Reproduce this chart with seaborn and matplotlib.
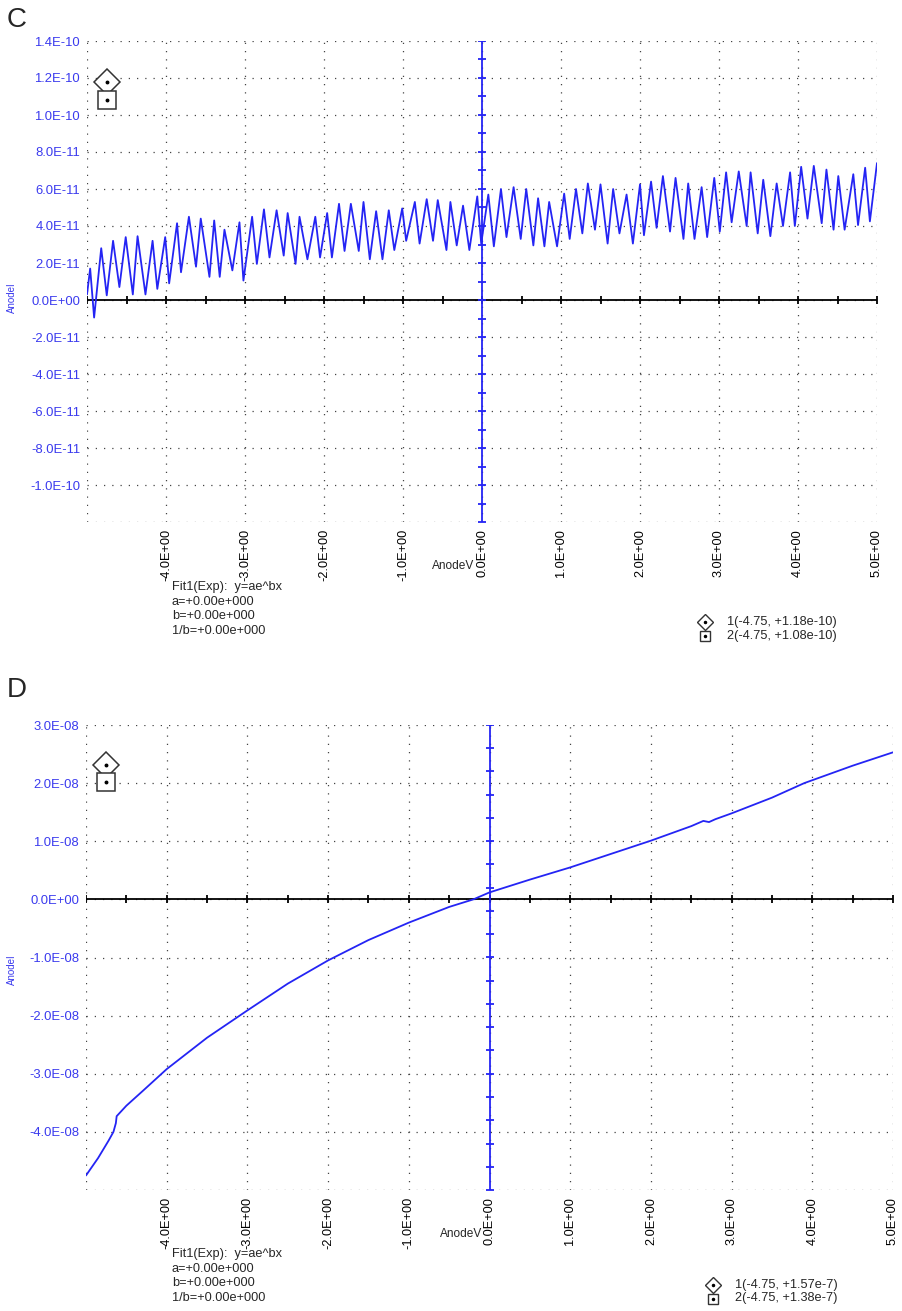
import numpy as np
import pandas as pd
import matplotlib
matplotlib.use("Agg")
import matplotlib.pyplot as plt
from matplotlib.lines import Line2D
import seaborn as sns

# ---------------- data ----------------
# Panel C : AnodeI (x 1e-11 A) vs AnodeV (V)  -- peaks / troughs of the oscillation
C_V = [-5.00, -4.96, -4.91, -4.82, -4.75, -4.67, -4.59, -4.51, -4.42, -4.36, -4.26,
       -4.17, -4.11, -4.01, -3.96, -3.86, -3.81, -3.71, -3.62, -3.56, -3.45, -3.39,
       -3.32, -3.26, -3.16, -3.07, -3.02, -2.91, -2.85, -2.76, -2.69, -2.60, -2.51,
       -2.46, -2.36, -2.31, -2.21, -2.11, -2.05, -1.96, -1.90, -1.81, -1.74, -1.66,
       -1.56, -1.50, -1.42, -1.34, -1.26, -1.18, -1.11, -1.01, -0.96, -0.85, -0.79,
       -0.70, -0.62, -0.56, -0.45, -0.40, -0.32, -0.24, -0.16, -0.06, -0.01,
       0.08, 0.15, 0.24, 0.31, 0.40, 0.49, 0.56, 0.65, 0.71, 0.79, 0.85, 0.95,
       1.04, 1.11, 1.19, 1.27, 1.34, 1.43, 1.50, 1.59, 1.66, 1.74, 1.83, 1.91,
       2.00, 2.05, 2.14, 2.21, 2.29, 2.38, 2.45, 2.55, 2.61, 2.69, 2.78, 2.85,
       2.94, 3.01, 3.09, 3.16, 3.25, 3.35, 3.40, 3.49, 3.56, 3.65, 3.73, 3.81,
       3.90, 3.96, 4.04, 4.12, 4.20, 4.30, 4.36, 4.45, 4.51, 4.59, 4.70, 4.76,
       4.85, 4.91, 5.00]
C_I = [0.3, 1.7, -0.95, 2.8, 0.25, 3.2, 0.7, 3.4, 0.3, 3.45, 0.3,
       3.2, 0.6, 3.4, 0.9, 4.15, 1.5, 4.5, 1.8, 4.4, 1.25, 4.3,
       1.25, 3.8, 1.6, 4.2, 1.05, 4.5, 1.95, 4.9, 2.3, 4.85, 2.4,
       4.7, 1.95, 4.5, 2.2, 4.5, 2.3, 4.7, 2.3, 5.2, 2.65, 5.2,
       2.65, 5.3, 2.2, 4.8, 2.2, 4.85, 2.7, 4.95, 3.2, 5.3, 3.05,
       5.45, 3.2, 5.4, 2.7, 5.3, 2.95, 5.1, 2.7, 5.6, 3.05,
       5.7, 2.9, 6.0, 3.4, 6.1, 3.3, 6.0, 2.95, 5.5, 2.9, 5.3, 2.9,
       5.75, 3.3, 6.0, 3.6, 6.3, 3.8, 6.25, 3.05, 6.0, 3.6, 5.7, 3.05,
       6.25, 3.5, 6.4, 3.9, 6.7, 3.7, 6.6, 3.3, 6.3, 3.3, 6.1, 3.4,
       6.6, 3.7, 6.9, 4.2, 6.95, 4.0, 6.9, 3.6, 6.5, 3.45, 6.3, 4.0,
       6.9, 4.0, 7.2, 4.4, 7.25, 4.15, 7.05, 3.8, 6.7, 3.8, 6.8, 4.05,
       7.15, 4.25, 7.4]
C_SCALE = 1e-11

# Panel D : AnodeI (x 1e-8 A) vs AnodeV (V)
D_V = [-5.00, -4.85, -4.72, -4.66, -4.63, -4.62, -4.50, -4.30, -4.00, -3.50, -3.00,
       -2.50, -2.00, -1.50, -1.00, -0.50, -0.20, 0.00, 0.50, 1.00, 1.50, 2.00,
       2.50, 2.65, 2.72, 2.80, 3.00, 3.50, 3.90, 4.00, 4.50, 5.00]
D_I = [-4.75, -4.45, -4.15, -4.00, -3.85, -3.73, -3.55, -3.30, -2.92, -2.38, -1.91,
       -1.45, -1.05, -0.70, -0.40, -0.13, 0.00, 0.12, 0.34, 0.55, 0.78, 1.01,
       1.26, 1.35, 1.33, 1.38, 1.48, 1.75, 2.00, 2.05, 2.30, 2.53]
D_SCALE = 1e-8

# ticks and labels
X_TICKS = [-5, -4, -3, -2, -1, 0, 1, 2, 3, 4, 5]
X_LABELS = ["", "-4.0E+00", "-3.0E+00", "-2.0E+00", "-1.0E+00", "0.0E+00",
            "1.0E+00", "2.0E+00", "3.0E+00", "4.0E+00", "5.0E+00"]
C_YTICKS = [-1.2e-10, -1.0e-10, -8e-11, -6e-11, -4e-11, -2e-11, 0.0,
            2e-11, 4e-11, 6e-11, 8e-11, 1.0e-10, 1.2e-10, 1.4e-10]
C_YLABELS = ["", "-1.0E-10", "-8.0E-11", "-6.0E-11", "-4.0E-11", "-2.0E-11", "0.0E+00",
             "2.0E-11", "4.0E-11", "6.0E-11", "8.0E-11", "1.0E-10", "1.2E-10", "1.4E-10"]
D_YTICKS = [-5e-8, -4e-8, -3e-8, -2e-8, -1e-8, 0.0, 1e-8, 2e-8, 3e-8]
D_YLABELS = ["", "-4.0E-08", "-3.0E-08", "-2.0E-08", "-1.0E-08", "0.0E+00",
             "1.0E-08", "2.0E-08", "3.0E-08"]

# cursor markers (data positions) and legend texts
C_CURSORS = [(-4.75, 1.18e-10), (-4.75, 1.08e-10)]
D_CURSORS = [(-4.75, 2.32e-8), (-4.75, 2.02e-8)]
C_LEGEND = ["1(-4.75, +1.18e-10)", "2(-4.75, +1.08e-10)"]
D_LEGEND = ["1(-4.75, +1.57e-7)", "2(-4.75, +1.38e-7)"]
FIT_LINES = ["Fit1(Exp):  y=ae^bx", "a=+0.00e+000", "b=+0.00e+000", "1/b=+0.00e+000"]

# ---------------- style ----------------
sns.set_style("white")
plt.rcParams["font.family"] = ["Liberation Sans", "DejaVu Sans"]

BLUE = "#2424f4"
LBLUE = "#3a3aee"
W, H = 902, 1311

fig = plt.figure(figsize=(W / 100, H / 100), dpi=100)


def fx(px):
    return px / W


def fy(py):
    return 1 - py / H


axC = fig.add_axes([fx(87), fy(522), fx(877) - fx(87), fy(41) - fy(522)])
axD = fig.add_axes([fx(86), fy(1190), fx(893) - fx(86), fy(725) - fy(1190)])


def style(ax, yticks, ylabels, ylim, vstep):
    ax.set_xlim(-5, 5)
    ax.set_ylim(*ylim)
    ax.set_xticks(X_TICKS)
    ax.set_xticklabels(X_LABELS)
    ax.set_yticks(yticks)
    ax.set_yticklabels(ylabels)
    ax.tick_params(axis="x", length=0, pad=5, labelsize=9.2, labelcolor="black",
                   labelrotation=90)
    ax.tick_params(axis="y", length=0, pad=5, labelsize=9.4, labelcolor=LBLUE)
    for s in ax.spines.values():
        s.set_visible(False)
    ax.grid(True, color="#444444", linestyle=(0, (1.0, 5.6)), linewidth=0.9)
    ax.set_axisbelow(True)
    # zero line with small ticks
    ax.axhline(0, color="black", lw=1.3, zorder=2)
    hx = np.arange(-5, 5.01, 0.5)
    ax.plot(hx, np.zeros_like(hx), ls="none", marker="|", ms=6, mew=1.3,
            color="black", zorder=2)
    # blue vertical line through x = 0 with ticks
    ax.axvline(0, color=BLUE, lw=1.3, zorder=3)
    vy = np.arange(ylim[0], ylim[1] + vstep * 0.01, vstep)
    ax.plot(np.zeros_like(vy), vy, ls="none", marker="_", ms=6, mew=1.3,
            color=BLUE, zorder=3)


def cursors(ax, pts):
    (x1, y1), (x2, y2) = pts
    ax.plot([x1], [y1], marker="D", ms=13.5, mfc="white", mec="#333333", mew=1.1,
            ls="none", zorder=5)
    ax.plot([x2], [y2], marker="s", ms=13, mfc="white", mec="#333333", mew=1.1,
            ls="none", zorder=5)
    ax.plot([x1, x2], [y1, y2], marker="o", ms=1.8, color="black", ls="none", zorder=6)


# ---------------- panel C ----------------
dfC = pd.DataFrame({"AnodeV": C_V, "AnodeI": np.array(C_I) * C_SCALE})
style(axC, C_YTICKS, C_YLABELS, (-1.2e-10, 1.4e-10), 1e-11)
sns.lineplot(data=dfC, x="AnodeV", y="AnodeI", ax=axC, color=BLUE, lw=1.3,
             estimator=None, sort=False, zorder=4)
axC.set_xlabel("")
axC.set_ylabel("")
cursors(axC, C_CURSORS)

# ---------------- panel D ----------------
dfD = pd.DataFrame({"AnodeV": D_V, "AnodeI": np.array(D_I) * D_SCALE})
style(axD, D_YTICKS, D_YLABELS, (-5e-8, 3e-8), 0.4e-8)
sns.lineplot(data=dfD, x="AnodeV", y="AnodeI", ax=axD, color=BLUE, lw=1.3,
             estimator=None, sort=False, zorder=4)
axD.set_xlabel("")
axD.set_ylabel("")
cursors(axD, D_CURSORS)


# ---------------- texts ----------------
def panel_texts(letter, letter_y, ylab_y, xlab_x, xlab_y, fit_x, fit_y0, leg_x, leg_y0,
                legend):
    fig.text(fx(7), fy(letter_y), letter, fontsize=20, va="center", ha="left")
    fig.text(fx(12), fy(ylab_y), "AnodeI", rotation=90, fontsize=7, color=LBLUE,
             ha="center", va="center")
    fig.text(fx(xlab_x), fy(xlab_y), "AnodeV", fontsize=8.6, ha="right", va="center")
    for i, line in enumerate(FIT_LINES):
        fig.text(fx(fit_x), fy(fit_y0 + i * 14.6), line, fontsize=9.2,
                 ha="left", va="center")
    mk = ["D", "s"]
    for i, line in enumerate(legend):
        yy = fy(leg_y0 + i * 13.5)
        fig.add_artist(Line2D([fx(leg_x)], [yy], transform=fig.transFigure,
                              marker=mk[i], ms=8 if i == 0 else 7.5, mfc="white",
                              mec="#333333", mew=1.0, ls="none"))
        fig.add_artist(Line2D([fx(leg_x)], [yy], transform=fig.transFigure,
                              marker="o", ms=1.5, color="black", ls="none"))
        fig.text(fx(leg_x + 22), yy, line, fontsize=9.2, ha="left", va="center")


panel_texts("C", 20, 298, 474, 566, 172, 587, 705, 622, C_LEGEND)
panel_texts("D", 690, 970, 482, 1234, 172, 1254, 713, 1285, D_LEGEND)

fig.savefig("out.png", dpi=100, facecolor="white")
